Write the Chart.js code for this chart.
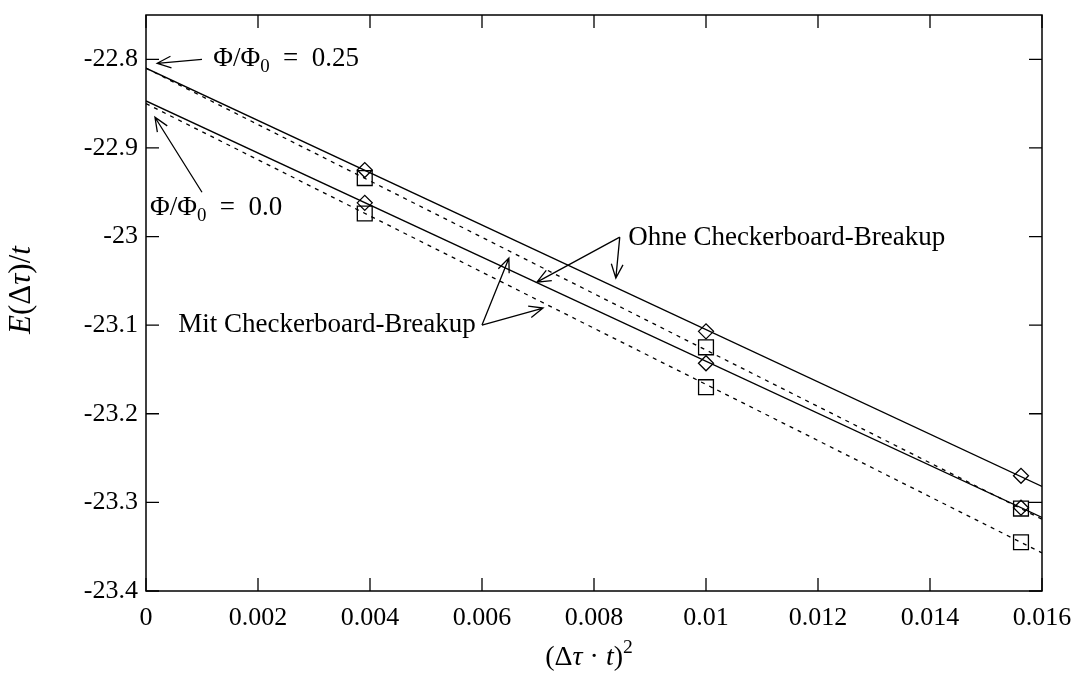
<!DOCTYPE html>
<html>
<head>
<meta charset="utf-8">
<script src="https://cdn.jsdelivr.net/npm/chart.js@4.4.0/dist/chart.umd.min.js"></script>
<style>
  html, body { margin: 0; padding: 0; background: #fff; }
</style>
</head>
<body>
<canvas id="myChart" width="1074" height="673"></canvas>
<script>
// measured points, x = (dtau * t)^2
const dtau2 = [0.00390625, 0.01, 0.015625];
const diamondsUpper = [-22.925, -23.107, -23.270];
const diamondsLower = [-22.962, -23.143, -23.306];
const squaresUpper = [-22.934, -23.125, -23.307];
const squaresLower = [-22.974, -23.170, -23.345];

// linear fits, ends at x = 0 and x = 0.016
const fitX = [0, 0.016];
const fitSolidUpper = [-22.810, -23.282];
const fitSolidLower = [-22.847, -23.317];
const fitDashedUpper = [-22.810, -23.319];
const fitDashedLower = [-22.850, -23.357];

const xTicks = [0, 0.002, 0.004, 0.006, 0.008, 0.01, 0.012, 0.014, 0.016];
const xTickLabels = ["0", "0.002", "0.004", "0.006", "0.008", "0.01", "0.012", "0.014", "0.016"];
const yTicks = [-23.4, -23.3, -23.2, -23.1, -23.0, -22.9, -22.8];
const yTickLabels = ["-23.4", "-23.3", "-23.2", "-23.1", "-23", "-22.9", "-22.8"];

const SERIF = "'Liberation Serif', 'DejaVu Serif', serif";

// labels and arrows in data coordinates
const notes = [
  { parts: [["Φ/Φ", ""], ["0", "sub"], ["  =  0.25", ""]], x: 0.0012, y: -22.800, align: "left" },
  { parts: [["Φ/Φ", ""], ["0", "sub"], ["  =  0.0", ""]], x: 0.00007, y: -22.968, align: "left" },
  { parts: [["Ohne Checkerboard-Breakup", ""]], x: 0.00861, y: -23.002, align: "left" },
  { parts: [["Mit Checkerboard-Breakup", ""]], x: 0.00589, y: -23.100, align: "right" },
];
const arrows = [
  { from: [0.00100, -22.8000], to: [0.00020, -22.8045] },
  { from: [0.00100, -22.9500], to: [0.00016, -22.8654] },
  { from: [0.00846, -23.0007], to: [0.00698, -23.0514] },
  { from: [0.00846, -23.0007], to: [0.00839, -23.0469] },
  { from: [0.00600, -23.0999], to: [0.00648, -23.0244] },
  { from: [0.00600, -23.0999], to: [0.00709, -23.0807] },
];

const pts = (xs, ys) => xs.map((x, i) => ({ x, y: ys[i] }));

function richWidth(ctx, parts, size) {
  let w = 0;
  parts.forEach(([t, s, it]) => {
    const fs = s ? size * 0.7 : size;
    ctx.font = (it ? "italic " : "") + fs + "px " + SERIF;
    w += ctx.measureText(t).width;
  });
  return w;
}

function drawRich(ctx, parts, x, y, size, align) {
  const w = richWidth(ctx, parts, size);
  let cx = align === "right" ? x - w : align === "center" ? x - w / 2 : x;
  ctx.textBaseline = "middle";
  ctx.textAlign = "left";
  parts.forEach(([t, s, it]) => {
    const fs = s ? size * 0.7 : size;
    ctx.font = (it ? "italic " : "") + fs + "px " + SERIF;
    let dy = 0;
    if (s === "sub") dy = size * 0.28;
    if (s === "sup") dy = -size * 0.35;
    ctx.fillText(t, cx, y + dy);
    cx += ctx.measureText(t).width;
  });
}

function drawArrow(ctx, x0, y0, x1, y1) {
  const ang = Math.atan2(y1 - y0, x1 - x0);
  const len = 15, spread = 0.4;
  ctx.beginPath();
  ctx.moveTo(x0, y0);
  ctx.lineTo(x1, y1);
  ctx.moveTo(x1 - len * Math.cos(ang - spread), y1 - len * Math.sin(ang - spread));
  ctx.lineTo(x1, y1);
  ctx.lineTo(x1 - len * Math.cos(ang + spread), y1 - len * Math.sin(ang + spread));
  ctx.stroke();
}

const decorPlugin = {
  id: "decor",
  afterDraw(chart) {
    const { ctx, chartArea: a, scales: { x, y } } = chart;
    ctx.save();
    ctx.strokeStyle = "#000";
    ctx.fillStyle = "#000";

    // frame
    ctx.lineWidth = 1.5;
    ctx.strokeRect(a.left, a.top, a.right - a.left, a.bottom - a.top);

    // inward ticks on all sides
    ctx.lineWidth = 1.3;
    ctx.beginPath();
    xTicks.forEach((v) => {
      const px = x.getPixelForValue(v);
      ctx.moveTo(px, a.bottom); ctx.lineTo(px, a.bottom - 13);
      ctx.moveTo(px, a.top); ctx.lineTo(px, a.top + 13);
    });
    yTicks.forEach((v) => {
      const py = y.getPixelForValue(v);
      ctx.moveTo(a.left, py); ctx.lineTo(a.left + 13, py);
      ctx.moveTo(a.right, py); ctx.lineTo(a.right - 13, py);
    });
    ctx.stroke();

    // arrows
    arrows.forEach((ar) => {
      drawArrow(ctx,
        x.getPixelForValue(ar.from[0]), y.getPixelForValue(ar.from[1]),
        x.getPixelForValue(ar.to[0]), y.getPixelForValue(ar.to[1]));
    });

    // annotation text
    notes.forEach((n) => {
      drawRich(ctx, n.parts, x.getPixelForValue(n.x), y.getPixelForValue(n.y), 27, n.align);
    });

    // axis titles
    const xt = [["(Δ", ""], ["τ", "", true], [" · ", ""], ["t", "", true], [")", ""], ["2", "sup"]];
    drawRich(ctx, xt, 589, 658, 28, "center");

    ctx.translate(22, 290);
    ctx.rotate(-Math.PI / 2);
    const yt = [["E", "", true], ["(Δ", ""], ["τ", "", true], [")/", ""], ["t", "", true]];
    drawRich(ctx, yt, 0, 0, 31, "center");
    ctx.restore();
  },
};

const ctx = document.getElementById("myChart");

new Chart(ctx, {
  type: "scatter",
  data: {
    datasets: [
      { data: pts(fitX, fitSolidUpper), showLine: true, borderColor: "#000", borderWidth: 1.3, pointRadius: 0 },
      { data: pts(fitX, fitSolidLower), showLine: true, borderColor: "#000", borderWidth: 1.3, pointRadius: 0 },
      { data: pts(fitX, fitDashedUpper), showLine: true, borderColor: "#000", borderWidth: 1.3, borderDash: [4, 5], pointRadius: 0 },
      { data: pts(fitX, fitDashedLower), showLine: true, borderColor: "#000", borderWidth: 1.3, borderDash: [4, 5], pointRadius: 0 },
      { data: pts(dtau2, diamondsUpper), pointStyle: "rectRot", pointRadius: 7.5, borderColor: "#000", backgroundColor: "rgba(0,0,0,0)", borderWidth: 1.3 },
      { data: pts(dtau2, diamondsLower), pointStyle: "rectRot", pointRadius: 7.5, borderColor: "#000", backgroundColor: "rgba(0,0,0,0)", borderWidth: 1.3 },
      { data: pts(dtau2, squaresUpper), pointStyle: "rect", pointRadius: 10.5, borderColor: "#000", backgroundColor: "rgba(0,0,0,0)", borderWidth: 1.3 },
      { data: pts(dtau2, squaresLower), pointStyle: "rect", pointRadius: 10.5, borderColor: "#000", backgroundColor: "rgba(0,0,0,0)", borderWidth: 1.3 },
    ],
  },
  options: {
    responsive: false,
    animation: false,
    events: [],
    layout: { padding: { top: 15, right: 32, left: 0, bottom: 0 } },
    plugins: { legend: { display: false }, tooltip: { enabled: false } },
    scales: {
      x: {
        type: "linear",
        min: 0,
        max: 0.016,
        grid: { display: false, drawTicks: false },
        border: { display: false },
        afterBuildTicks: (s) => { s.ticks = xTicks.map((v) => ({ value: v })); },
        afterFit: (s) => { s.height = 82; s.paddingLeft = 0; s.paddingRight = 0; },
        ticks: {
          padding: 12,
          color: "#000",
          font: { family: SERIF, size: 26 },
          maxRotation: 0,
          callback: (v, i) => xTickLabels[i],
        },
      },
      y: {
        type: "linear",
        min: -23.4,
        max: -22.75,
        grid: { display: false, drawTicks: false },
        border: { display: false },
        afterBuildTicks: (s) => { s.ticks = yTicks.map((v) => ({ value: v })); },
        afterFit: (s) => { s.width = 146; s.paddingTop = 0; s.paddingBottom = 0; },
        ticks: {
          padding: 8,
          color: "#000",
          font: { family: SERIF, size: 26 },
          callback: (v, i) => yTickLabels[i],
        },
      },
    },
  },
  plugins: [decorPlugin],
});
</script>
</body>
</html>
